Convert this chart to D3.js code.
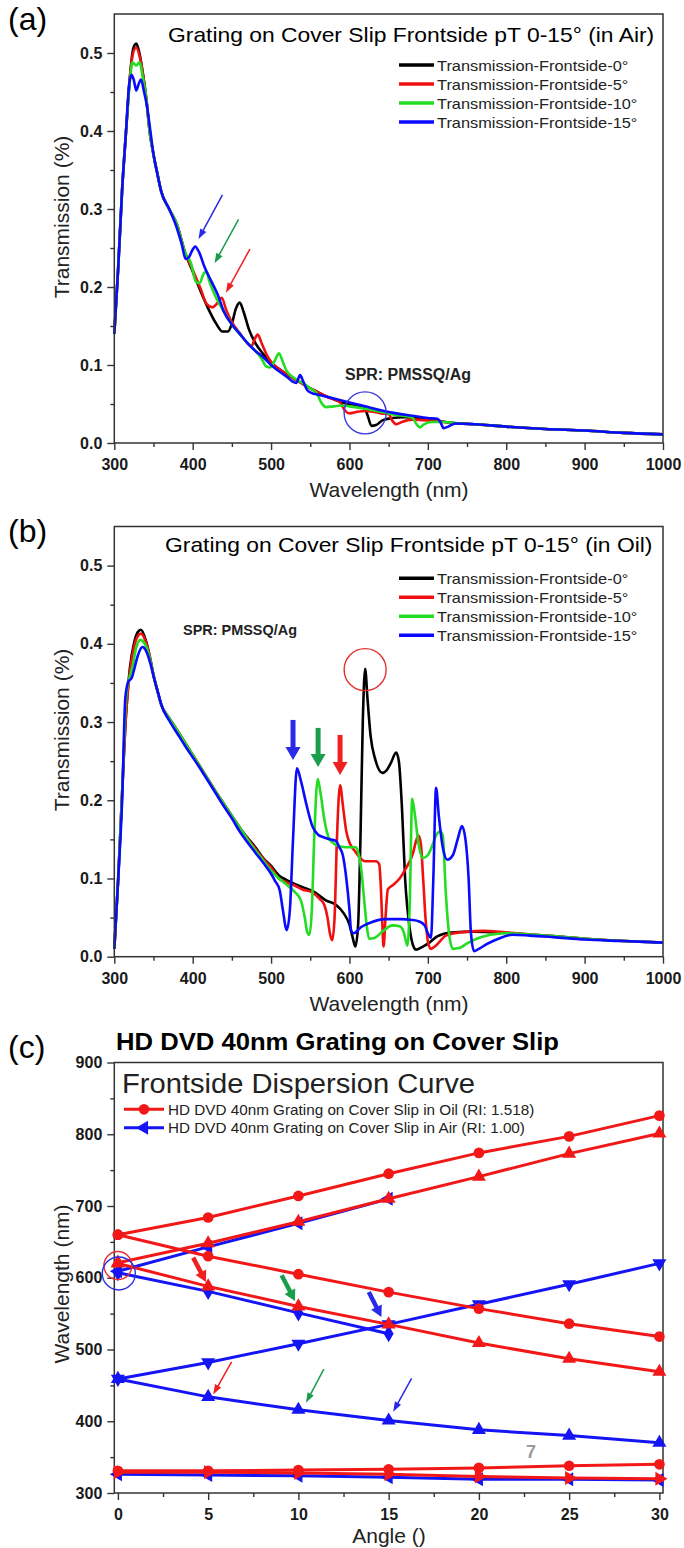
<!DOCTYPE html>
<html>
<head>
<meta charset="utf-8">
<script src="https://cdn.jsdelivr.net/npm/d3@7"></script>
<style>
  body { margin: 0; background: #fff; }
  svg { display: block; }
  text { font-family: "Liberation Sans", Arial, sans-serif; }
</style>
</head>
<body>
<script>
// ---------- axis ticks ----------
const wavelengthTicks = [300, 400, 500, 600, 700, 800, 900, 1000];
const wavelengthMinor = [350, 450, 550, 650, 750, 850, 950];
const transTicks = [0, 0.1, 0.2, 0.3, 0.4, 0.5];
const transMinor = [0.05, 0.15, 0.25, 0.35, 0.45];
const angleTicks = [0, 5, 10, 15, 20, 25, 30];
const angleMinor = [2.5, 7.5, 12.5, 17.5, 22.5, 27.5];
const dispTicks = [300, 400, 500, 600, 700, 800, 900];
const dispMinor = [350, 450, 550, 650, 750, 850];

const spectraLegend = ["Transmission-Frontside-0°", "Transmission-Frontside-5°",
                       "Transmission-Frontside-10°", "Transmission-Frontside-15°"];
const spectraColors = ["#000000", "#f01010", "#22dd22", "#0a0aff"];

// ---------- (a) transmission in air: [wavelength nm, transmission] ----------
const airT0 = [[300,.14],[305,.225],[310,.325],[315,.40],[320,.47],[324,.505],[328,.512],[332,.5],[337,.47],[341,.44],[345,.40],[350,.37],[355,.345],[360,.322],[370,.30],[380,.28],[390,.245],[400,.22],[410,.195],[420,.172],[430,.153],[438,.143],[445,.143],[450,.153],[455,.172],[460,.18],[465,.168],[472,.145],[480,.128],[490,.114],[500,.103],[510,.095],[520,.088],[530,.082],[540,.076],[550,.07],[560,.065],[570,.06],[580,.056],[590,.052],[600,.05],[610,.048],[618,.046],[623,.036],[628,.022],[634,.023],[642,.029],[655,.032],[670,.033],[690,.032],[710,.029],[730,.026],[760,.024],[800,.021],[850,.018],[900,.016],[950,.013],[1000,.011]];
const airT5 = [[300,.14],[305,.225],[310,.325],[315,.40],[320,.47],[324,.5],[328,.507],[332,.497],[337,.47],[341,.44],[345,.40],[350,.37],[355,.345],[360,.322],[370,.30],[380,.28],[390,.245],[400,.222],[410,.198],[418,.178],[425,.174],[432,.18],[437,.186],[443,.17],[450,.155],[460,.141],[468,.13],[475,.124],[479,.133],[483,.139],[488,.128],[495,.112],[500,.104],[510,.095],[520,.088],[530,.082],[540,.076],[550,.07],[560,.065],[570,.06],[580,.056],[588,.052],[594,.042],[600,.038],[610,.04],[620,.041],[630,.04],[640,.038],[650,.037],[655,.028],[660,.024],[667,.027],[680,.03],[700,.029],[720,.027],[740,.025],[760,.024],[800,.021],[850,.018],[900,.016],[950,.013],[1000,.011]];
const airT10 = [[300,.14],[305,.225],[310,.325],[315,.40],[320,.465],[323,.488],[328,.484],[332,.488],[337,.465],[341,.44],[345,.40],[350,.37],[355,.345],[360,.322],[370,.30],[380,.28],[390,.245],[398,.23],[404,.207],[409,.205],[413,.215],[417,.22],[422,.205],[430,.186],[440,.168],[450,.152],[460,.14],[470,.128],[480,.118],[488,.108],[494,.098],[499,.097],[505,.106],[510,.115],[515,.104],[520,.092],[530,.083],[540,.077],[550,.07],[558,.064],[564,.052],[570,.046],[580,.047],[590,.048],[600,.047],[620,.044],[640,.04],[660,.036],[680,.033],[685,.025],[690,.02],[695,.024],[705,.027],[720,.027],[740,.025],[760,.024],[800,.021],[850,.018],[900,.016],[950,.013],[1000,.011]];
const airT15 = [[300,.14],[305,.225],[310,.325],[315,.40],[319,.46],[322,.472],[325,.465],[328,.452],[331,.46],[334,.466],[338,.45],[342,.43],[346,.40],[350,.37],[355,.345],[360,.322],[370,.30],[380,.275],[386,.255],[391,.236],[395,.238],[400,.248],[403,.252],[408,.245],[415,.226],[425,.205],[432,.19],[440,.168],[450,.152],[460,.14],[470,.128],[480,.118],[490,.11],[500,.1],[510,.092],[520,.085],[527,.079],[532,.077],[537,.087],[541,.079],[546,.068],[552,.064],[560,.062],[580,.057],[600,.052],[620,.047],[640,.042],[660,.038],[680,.035],[700,.032],[712,.031],[716,.027],[720,.019],[726,.021],[735,.025],[760,.024],[800,.021],[850,.018],[900,.016],[950,.013],[1000,.011]];

// ---------- (b) transmission in oil ----------
const oilT0 = [[300,.01],[305,.1],[310,.21],[315,.31],[320,.37],[325,.4],[330,.415],[334,.418],[340,.405],[345,.385],[350,.36],[355,.34],[360,.322],[370,.305],[380,.29],[390,.274],[400,.258],[410,.242],[420,.226],[430,.21],[440,.195],[450,.18],[460,.165],[470,.152],[480,.14],[490,.126],[500,.116],[510,.104],[520,.098],[530,.093],[540,.089],[553,.084],[570,.072],[583,.066],[593,.055],[600,.041],[604,.025],[607.5,.013],[611,.04],[614,.15],[617,.3],[620,.368],[623,.33],[627,.282],[633,.252],[642,.235],[647,.238],[653,.248],[659.5,.261],[663,.25],[667,.19],[671,.1],[677,.035],[681,.015],[685,.009],[692,.012],[702,.018],[712,.026],[730,.031],[760,.032],[790,.031],[820,.029],[850,.027],[900,.023],[950,.02],[1000,.018]];
const oilT5 = [[300,.01],[305,.1],[310,.21],[315,.31],[320,.365],[325,.395],[330,.41],[334,.413],[340,.403],[345,.385],[350,.36],[355,.34],[360,.322],[370,.305],[380,.29],[390,.274],[400,.258],[410,.242],[420,.226],[430,.21],[440,.195],[450,.18],[460,.165],[470,.151],[480,.138],[490,.125],[500,.114],[510,.1],[520,.095],[530,.091],[540,.086],[553,.082],[562,.074],[568,.066],[572,.05],[575,.03],[578,.021],[581,.05],[584,.15],[588,.219],[592,.19],[596,.16],[600,.146],[607,.135],[613,.127],[620,.122],[634,.122],[638,.118],[640,.09],[642,.04],[643.5,.013],[646,.05],[649,.086],[656,.092],[664,.1],[672,.113],[681,.132],[685,.148],[688,.155],[691,.145],[694,.1],[697,.05],[701,.015],[704,.01],[710,.014],[723,.027],[740,.031],[770,.033],[800,.031],[850,.027],[900,.023],[950,.02],[1000,.018]];
const oilT10 = [[300,.01],[305,.1],[310,.21],[315,.33],[319,.355],[323,.37],[328,.395],[333,.405],[340,.398],[345,.383],[350,.36],[355,.34],[360,.322],[370,.305],[380,.29],[390,.274],[400,.258],[410,.242],[420,.226],[430,.21],[440,.195],[450,.18],[460,.165],[470,.15],[480,.136],[490,.123],[500,.11],[510,.1],[520,.092],[530,.083],[538,.072],[543,.05],[546,.032],[549,.028],[552,.06],[555,.15],[559.5,.227],[563,.21],[568,.175],[574.5,.15],[585,.142],[595,.14],[608,.14],[612,.13],[615,.112],[619,.07],[622,.04],[625,.023],[632,.024],[643,.033],[655,.04],[664,.039],[669,.032],[672,.02],[674,.014],[677,.07],[680,.202],[683,.185],[688,.145],[693.5,.126],[700,.13],[706,.143],[710,.154],[716,.16],[719,.155],[723,.08],[727,.03],[732,.01],[740,.011],[750,.017],[760,.022],[780,.028],[800,.03],[850,.027],[900,.023],[950,.02],[1000,.018]];
const oilT15 = [[300,.01],[305,.1],[310,.2],[314,.33],[318,.352],[322,.356],[326,.37],[330,.385],[336,.396],[341,.39],[346,.375],[351,.355],[356,.337],[360,.322],[370,.302],[380,.286],[390,.27],[400,.255],[410,.24],[420,.224],[430,.208],[440,.192],[450,.177],[460,.16],[470,.146],[480,.133],[490,.12],[500,.106],[505,.097],[511,.085],[515,.06],[520,.034],[524,.06],[528,.15],[533,.241],[538,.225],[545,.195],[553,.166],[560,.156],[566,.153],[575,.15],[583,.148],[587,.14],[591.5,.13],[596,.1],[600,.06],[602,.034],[605,.03],[615,.038],[628,.044],[645,.048],[665,.048],[680,.047],[689,.045],[696,.04],[700,.03],[704,.024],[707,.1],[710.5,.216],[714,.18],[719,.14],[725,.124],[732,.13],[738,.15],[743.6,.167],[748,.15],[752,.1],[755,.03],[759,.007],[765,.01],[775,.016],[790,.023],[808,.028],[830,.027],[860,.025],[900,.022],[950,.02],[1000,.018]];

// ---------- (c) dispersion: resonance wavelength (nm) vs angle ----------
const angles = [0, 5, 10, 15, 20, 25, 30];
const anglesAir = [0, 5, 10, 15];
const oilMode1 = [660, 684, 714, 745, 774, 797, 826];
const oilMode2 = [621, 648, 678, 710, 741, 773, 801];
const oilMode3 = [660, 630, 605, 580, 557, 536, 518];
const oilMode4 = [620, 588, 560, 535, 509, 487, 469];
const oilMode5 = [331, 331, 332, 333, 335, 338, 340];
const oilMode6 = [329, 329, 328, 326, 323, 321, 320];
const airMode1 = [609, 643, 676, 710];
const airMode2 = [607, 581, 551, 522];
const airMode3 = [459, 482, 508, 535, 563, 591, 620];
const airMode4 = [459, 434, 416, 401, 388, 380, 370];
const airMode5 = [326, 325, 324, 322, 319, 319, 318];
const dispLegend = ["HD DVD 40nm Grating on Cover Slip in Oil (RI: 1.518)",
                    "HD DVD 40nm Grating on Cover Slip in Air (RI: 1.00)"];

// ---------- drawing ----------
const svg = d3.select("body").append("svg").attr("width", 684).attr("height", 1548);
const RED = "#f21818", BLUE = "#1414f5";
const ARROW = { blue: "#2a2ae6", green: "#1a9e4c", red: "#ee2020" };

function text(g, x, y, str, o = {}) {
  const t = g.append("text").attr("x", x).attr("y", y).text(str);
  Object.entries(o).forEach(([k, v]) => t.attr(k, v));
  return t;
}
// widen a label horizontally by factor k, keeping its height
function stretch(t, k) {
  const w = t.node().getComputedTextLength();
  t.attr("textLength", w * k).attr("lengthAdjust", "spacingAndGlyphs");
  return t;
}

function arrow(g, x1, y1, x2, y2, color, shaft, headLen, headW) {
  const dx = x2 - x1, dy = y2 - y1, L = Math.hypot(dx, dy);
  const ux = dx / L, uy = dy / L;
  const bx = x2 - ux * headLen, by = y2 - uy * headLen;
  g.append("line").attr("x1", x1).attr("y1", y1).attr("x2", bx + ux * 1).attr("y2", by + uy * 1)
    .attr("stroke", color).attr("stroke-width", shaft);
  g.append("path")
    .attr("d", `M${x2},${y2}L${bx - uy * headW / 2},${by + ux * headW / 2}L${bx + uy * headW / 2},${by - ux * headW / 2}Z`)
    .attr("fill", color);
}

function axes(g, x, y, xt, xm, yt, ym, xfmt, yfmt) {
  const [x0, x1] = x.range(), [y0, y1] = y.range();
  const style = sel => {
    sel.select(".domain").remove();
    sel.selectAll("line").attr("stroke", "#333").attr("stroke-width", 1.4);
    sel.selectAll("text").attr("font-size", 16).attr("font-weight", "bold").attr("fill", "#1a1a1a")
      .attr("font-family", "'Liberation Sans', Arial, sans-serif");
  };
  g.append("g").attr("transform", `translate(0,${y0})`)
    .call(d3.axisBottom(x).tickValues(xt).tickSize(7).tickPadding(9).tickFormat(xfmt)).call(style);
  g.append("g").attr("transform", `translate(0,${y0})`)
    .call(d3.axisBottom(x).tickValues(xm).tickSize(4).tickFormat("")).call(style);
  g.append("g").attr("transform", `translate(${x0},0)`)
    .call(d3.axisLeft(y).tickValues(yt).tickSize(7).tickPadding(5).tickFormat(yfmt)).call(style);
  g.append("g").attr("transform", `translate(${x0},0)`)
    .call(d3.axisLeft(y).tickValues(ym).tickSize(4).tickFormat("")).call(style);
  g.append("rect").attr("x", x0).attr("y", y1).attr("width", x1 - x0).attr("height", y0 - y1)
    .attr("fill", "none").attr("stroke", "#333").attr("stroke-width", 1.5);
}

function spectraPanel(cfg) {
  const g = svg.append("g");
  const x = d3.scaleLinear().domain([300, 1000]).range([114.3, 663]);
  const y = d3.scaleLinear().domain([0, 0.55]).range([cfg.bottom, cfg.top]);
  const line = d3.line().x(d => x(d[0])).y(d => y(d[1])).curve(d3.curveMonotoneX);
  cfg.series.forEach((s, i) => {
    g.append("path").datum(s).attr("d", line).attr("fill", "none")
      .attr("stroke", spectraColors[i]).attr("stroke-width", 2.6).attr("stroke-linejoin", "round");
  });
  axes(g, x, y, wavelengthTicks, wavelengthMinor, transTicks, transMinor, d3.format("d"), d3.format(".1f"));

  text(g, 8, cfg.tagY, cfg.tag, { "font-size": 32 });
  stretch(text(g, cfg.titleX, cfg.titleY, cfg.title, { "font-size": 21 }), 1.088);
  spectraLegend.forEach((lab, i) => {
    const ly = cfg.legendY + i * 19;
    g.append("line").attr("x1", 399).attr("x2", 434).attr("y1", ly).attr("y2", ly)
      .attr("stroke", spectraColors[i]).attr("stroke-width", 3.5);
    stretch(text(g, 437, ly + 5.5, lab, { "font-size": 15, fill: "#222" }), 1.09);
  });
  text(g, 0, 0, "Transmission (%)", { "font-size": 21, "text-anchor": "middle",
    transform: `translate(69,${cfg.ylabelY}) rotate(-90)`, fill: "#222" });
  text(g, 389, cfg.bottom + 54, "Wavelength (nm)", { "font-size": 21, "text-anchor": "middle", fill: "#222" });
  return { g, x, y };
}

// (a) air
const pa = spectraPanel({ top: 14, bottom: 443, series: [airT0, airT5, airT10, airT15],
  tag: "(a)", tagY: 30, title: "Grating on Cover Slip Frontside pT 0-15° (in Air)",
  titleX: 168, titleY: 42, legendY: 65, ylabelY: 217 });
text(pa.g, 345, 380, "SPR: PMSSQ/Ag", { "font-size": 16, "font-weight": "bold",
  "font-family": "'Open Sans', 'Noto Sans', sans-serif", textLength: 126, lengthAdjust: "spacingAndGlyphs", fill: "#222" });
pa.g.append("circle").attr("cx", pa.x(620)).attr("cy", pa.y(0.0386)).attr("r", 21)
  .attr("fill", "none").attr("stroke", "#3a3ae0").attr("stroke-width", 1.4);
[[437.96, 0.318, 407.4, 0.2615, ARROW.blue], [458.5, 0.2868, 427.9, 0.2304, ARROW.green],
 [473, 0.2487, 442.4, 0.1927, ARROW.red]].forEach(a =>
  arrow(pa.g, pa.x(a[0]), pa.y(a[1]), pa.x(a[2]), pa.y(a[3]), a[4], 1.5, 10, 7));

// (b) oil
const pb = spectraPanel({ top: 526.5, bottom: 956.7, series: [oilT0, oilT5, oilT10, oilT15],
  tag: "(b)", tagY: 542, title: "Grating on Cover Slip Frontside pT 0-15° (in Oil)",
  titleX: 165, titleY: 552, legendY: 578.3, ylabelY: 730 });
text(pb.g, 183, 635, "SPR: PMSSQ/Ag", { "font-size": 14, "font-weight": "bold",
  "font-family": "'Open Sans', 'Noto Sans', sans-serif", textLength: 114, lengthAdjust: "spacingAndGlyphs", fill: "#222" });
pb.g.append("circle").attr("cx", pb.x(620)).attr("cy", pb.y(0.367)).attr("r", 21)
  .attr("fill", "none").attr("stroke", "#e03030").attr("stroke-width", 1.4);
[[528, 0.3027, 0.2516, ARROW.blue], [560, 0.2925, 0.2426, ARROW.green],
 [588, 0.2835, 0.2324, ARROW.red]].forEach(a =>
  arrow(pb.g, pb.x(a[0]), pb.y(a[1]), pb.x(a[0]), pb.y(a[2]), a[3], 5, 13, 15));

// (c) dispersion curve
const gc = svg.append("g");
const xc = d3.scaleLinear().domain([-0.2, 30.2]).range([114.3, 663]);
const yc = d3.scaleLinear().domain([300, 900]).range([1493, 1062.5]);
const sym = {
  circle: d3.symbol().type(d3.symbolCircle).size(90)(),
  tri: d3.symbol().type(d3.symbolTriangle).size(85)(),
  diamond: d3.symbol().type(d3.symbolDiamond).size(85)()
};
const rot = { up: 0, down: 180, left: -90, right: 90 };
const lineC = d3.line().x(d => xc(d[0])).y(d => yc(d[1]));

function dispSeries(xs, ys, color, shape, dir = "up") {
  const pts = xs.map((a, i) => [a, ys[i]]);
  gc.append("path").datum(pts).attr("d", lineC).attr("fill", "none")
    .attr("stroke", color).attr("stroke-width", 3);
  gc.selectAll(null).data(pts).enter().append("path")
    .attr("d", shape === "tri" ? sym.tri : sym[shape])
    .attr("transform", d => `translate(${xc(d[0])},${yc(d[1])}) rotate(${shape === "tri" ? rot[dir] : 0})`)
    .attr("fill", color);
}

axes(gc, xc, yc, angleTicks, angleMinor, dispTicks, dispMinor, d3.format("d"), d3.format("d"));

dispSeries(anglesAir, airMode1, BLUE, "tri", "left");
dispSeries(anglesAir, airMode2, BLUE, "diamond");
dispSeries(angles, airMode3, BLUE, "tri", "down");
dispSeries(angles, airMode4, BLUE, "tri", "up");
dispSeries(angles, airMode5, BLUE, "tri", "left");
dispSeries(angles, oilMode1, RED, "circle");
dispSeries(angles, oilMode2, RED, "tri", "up");
dispSeries(angles, oilMode3, RED, "circle");
dispSeries(angles, oilMode4, RED, "tri", "up");
dispSeries(angles, oilMode6, RED, "tri", "right");
dispSeries(angles, oilMode5, RED, "circle");

gc.append("circle").attr("cx", xc(0)).attr("cy", yc(617)).attr("r", 14)
  .attr("fill", "none").attr("stroke", "#e83030").attr("stroke-width", 1.4);
gc.append("circle").attr("cx", xc(0.05)).attr("cy", yc(606)).attr("r", 16.5)
  .attr("fill", "none").attr("stroke", "#3030e0").attr("stroke-width", 1.4);

// thick arrows along the descending branches, thin arrows on the air mode
[[4.17, 628, 4.88, 594, ARROW.red], [9.07, 603.5, 9.81, 567.7, ARROW.green],
 [13.9, 580, 14.6, 545.4, ARROW.blue]].forEach(a =>
  arrow(gc, xc(a[0]), yc(a[1]), xc(a[2]), yc(a[3]), a[4], 4.5, 11, 12));
[[6.3, 482.8, 5.28, 437.4, ARROW.red], [11.41, 472.6, 10.42, 425.7, ARROW.green],
 [16.27, 459.7, 15.25, 413.2, ARROW.blue]].forEach(a =>
  arrow(gc, xc(a[0]), yc(a[1]), xc(a[2]), yc(a[3]), a[4], 1.5, 10, 7));

text(gc, 531, 1458, "7", { "font-size": 18, "font-weight": "bold", fill: "#9a9a9a", "text-anchor": "middle" });

text(gc, 8, 1058, "(c)", { "font-size": 32 });
text(gc, 116, 1050, "HD DVD 40nm Grating on Cover Slip", { "font-size": 23, "font-weight": "bold",
  "font-family": "'Open Sans', 'Noto Sans', sans-serif", textLength: 443, lengthAdjust: "spacingAndGlyphs" });
text(gc, 122, 1093, "Frontside Dispersion Curve", { "font-size": 27, fill: "#222", textLength: 353, lengthAdjust: "spacingAndGlyphs" });
[[RED, "circle", 0], [BLUE, "tri", -90]].forEach((s, i) => {
  const ly = 1109.3 + i * 18.4;
  gc.append("line").attr("x1", 124).attr("x2", 164).attr("y1", ly).attr("y2", ly)
    .attr("stroke", s[0]).attr("stroke-width", 3);
  gc.append("path").attr("d", sym[s[1]]).attr("transform", `translate(144,${ly}) rotate(${s[2]})`).attr("fill", s[0]);
  stretch(text(gc, 168, ly + 5.5, dispLegend[i], { "font-size": 15, fill: "#222" }), 1.017);
});
text(gc, 0, 0, "Wavelength (nm)", { "font-size": 21, "text-anchor": "middle", fill: "#222",
  transform: `translate(69,1284) rotate(-90)` });
text(gc, 389, 1543, "Angle ()", { "font-size": 21, "text-anchor": "middle", fill: "#222" });
</script>
</body>
</html>
